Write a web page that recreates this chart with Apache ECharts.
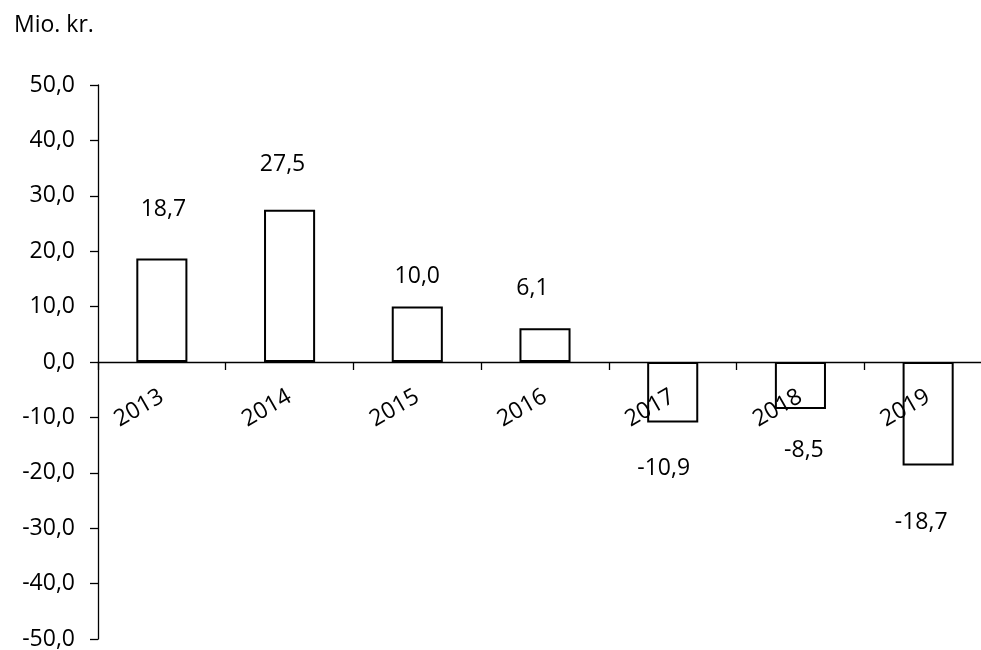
<!DOCTYPE html>
<html>
<head>
<meta charset="utf-8">
<script src="https://cdn.jsdelivr.net/npm/echarts@6/dist/echarts.min.js"></script>
<style>
html,body{margin:0;padding:0;background:#fff;}
#c{width:981px;height:650px;}
</style>
</head>
<body>
<div id="c"></div>
<script>
const years = ['2013','2014','2015','2016','2017','2018','2019'];
const values = [18.7, 27.5, 10.0, 6.1, -10.9, -8.5, -18.7];
const yUnit = 'Mio. kr.';

const FONT = '"Open Sans", "Noto Sans", sans-serif';
const FS = 23;
const fmt = v => v.toFixed(1).replace('.', ',');

// per-bar label placement (manual placement as in the original)
const labelDist = [37, 34, 19, 28, 35, 30, 45];
const labelDx = [1.5, -7, 0, -12.5, -9, 3.5, -7];

const GRID_TOP = 85, GRID_H = 554;

const chart = echarts.init(document.getElementById('c'), null, {renderer: 'canvas'});
chart.setOption({
  animation: false,
  backgroundColor: '#fff',
  textStyle: {fontFamily: FONT},
  title: {
    text: yUnit, left: 9, top: 9,
    textStyle: {fontFamily: FONT, fontSize: FS, fontWeight: 'normal', color: '#000'}
  },
  grid: {left: 98, top: GRID_TOP, width: 894, height: GRID_H, containLabel: false, outerBoundsMode: 'none'},
  xAxis: {
    type: 'category',
    data: years,
    z: 10,
    offset: -GRID_H / 2,
    axisLine: {onZero: false, lineStyle: {color: '#000', width: 1.3}},
    axisTick: {show: true, alignWithLabel: false, length: 8, lineStyle: {color: '#000', width: 1.3}},
    axisLabel: {rotate: 30, margin: 33, fontSize: FS, color: '#000', fontFamily: FONT},
    splitLine: {show: false}
  },
  yAxis: {
    type: 'value',
    min: -50, max: 50, interval: 10,
    axisLine: {show: true, lineStyle: {color: '#000', width: 1.3}},
    axisTick: {show: true, inside: false, length: 8, lineStyle: {color: '#000', width: 1.3}},
    axisLabel: {margin: 23, fontSize: FS, color: '#000', fontFamily: FONT, formatter: v => fmt(v)},
    splitLine: {show: false}
  },
  series: [{
    type: 'bar',
    barWidth: '40%',
    z: 1,
    itemStyle: {color: '#fff', borderColor: '#000', borderWidth: 2},
    data: values.map((v, i) => ({
      value: v,
      label: {
        show: true,
        position: v >= 0 ? 'top' : 'bottom',
        distance: labelDist[i],
        offset: [labelDx[i], 0],
        formatter: p => fmt(p.value),
        fontSize: FS, color: '#000', fontFamily: FONT
      }
    }))
  }]
});
</script>
</body>
</html>
